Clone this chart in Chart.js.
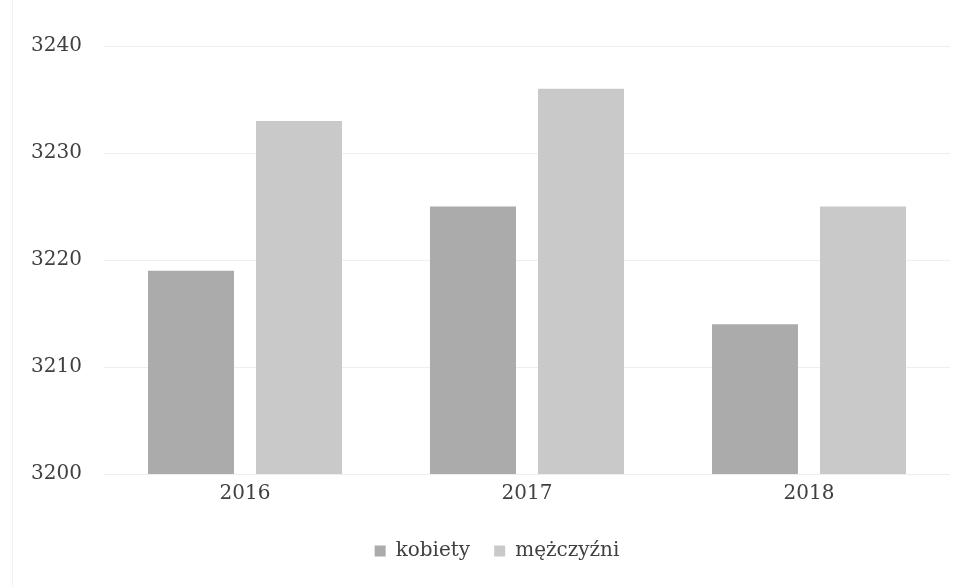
<!DOCTYPE html>
<html><head><meta charset="utf-8">
<script src="https://cdn.jsdelivr.net/npm/chart.js@4"></script>
<style>
html,body{margin:0;padding:0;background:#fff;}
#wrap{position:relative;width:959px;height:587px;}
#edge{position:absolute;left:12px;top:0;width:1px;height:587px;background:#f0f0f0;}
</style></head>
<body>
<div id="wrap"><div id="edge"></div><canvas id="c" width="959" height="587"></canvas></div>
<script>
const categories = ["2016", "2017", "2018"];
const kobiety = [3219, 3225, 3214];
const mezczyzni = [3233, 3236, 3225];
const seriesNames = ["kobiety", "mężczyźni"];
const yTicks = [3200, 3210, 3220, 3230, 3240];

const FONT = "'DejaVu Serif', 'Liberation Serif', serif";
Chart.defaults.font.family = FONT;
Chart.defaults.color = "#404040";

const legendShift = {
  id: "legendShift",
  afterLayout(chart) {
    if (chart.legend) { chart.legend.left += 12; chart.legend.right += 12; }
  }
};

new Chart(document.getElementById("c"), {
  type: "bar",
  data: {
    labels: categories,
    datasets: [
      { label: seriesNames[0], data: kobiety, backgroundColor: "#ababab", borderWidth: 0 },
      { label: seriesNames[1], data: mezczyzni, backgroundColor: "#c9c9c9", borderWidth: 0 }
    ]
  },
  plugins: [legendShift],
  options: {
    responsive: false,
    animation: false,
    devicePixelRatio: 1,
    categoryPercentage: 0.766,
    barPercentage: 0.796,
    layout: { padding: { left: 20, right: 9, top: 46, bottom: 16 } },
    plugins: {
      tooltip: { enabled: false },
      legend: {
        position: "bottom",
        labels: {
          font: { size: 20, family: FONT },
          color: "#404040",
          boxWidth: 11, boxHeight: 11,
          padding: 24
        }
      }
    },
    scales: {
      x: {
        grid: { display: false },
        border: { display: false },
        ticks: { font: { size: 20, family: FONT }, color: "#404040", padding: 0 },
        afterFit: (s) => { s.height = 43; }
      },
      y: {
        min: 3200, max: 3240,
        afterBuildTicks: (s) => { s.ticks = yTicks.map(v => ({ value: v })); },
        grid: { color: "#eeeeee", drawTicks: false },
        border: { display: false },
        ticks: { font: { size: 20, family: FONT }, color: "#404040", padding: 22,
                 callback: (v) => String(v) },
        afterFit: (s) => { s.width = 84; }
      }
    }
  }
});
</script>
</body></html>
